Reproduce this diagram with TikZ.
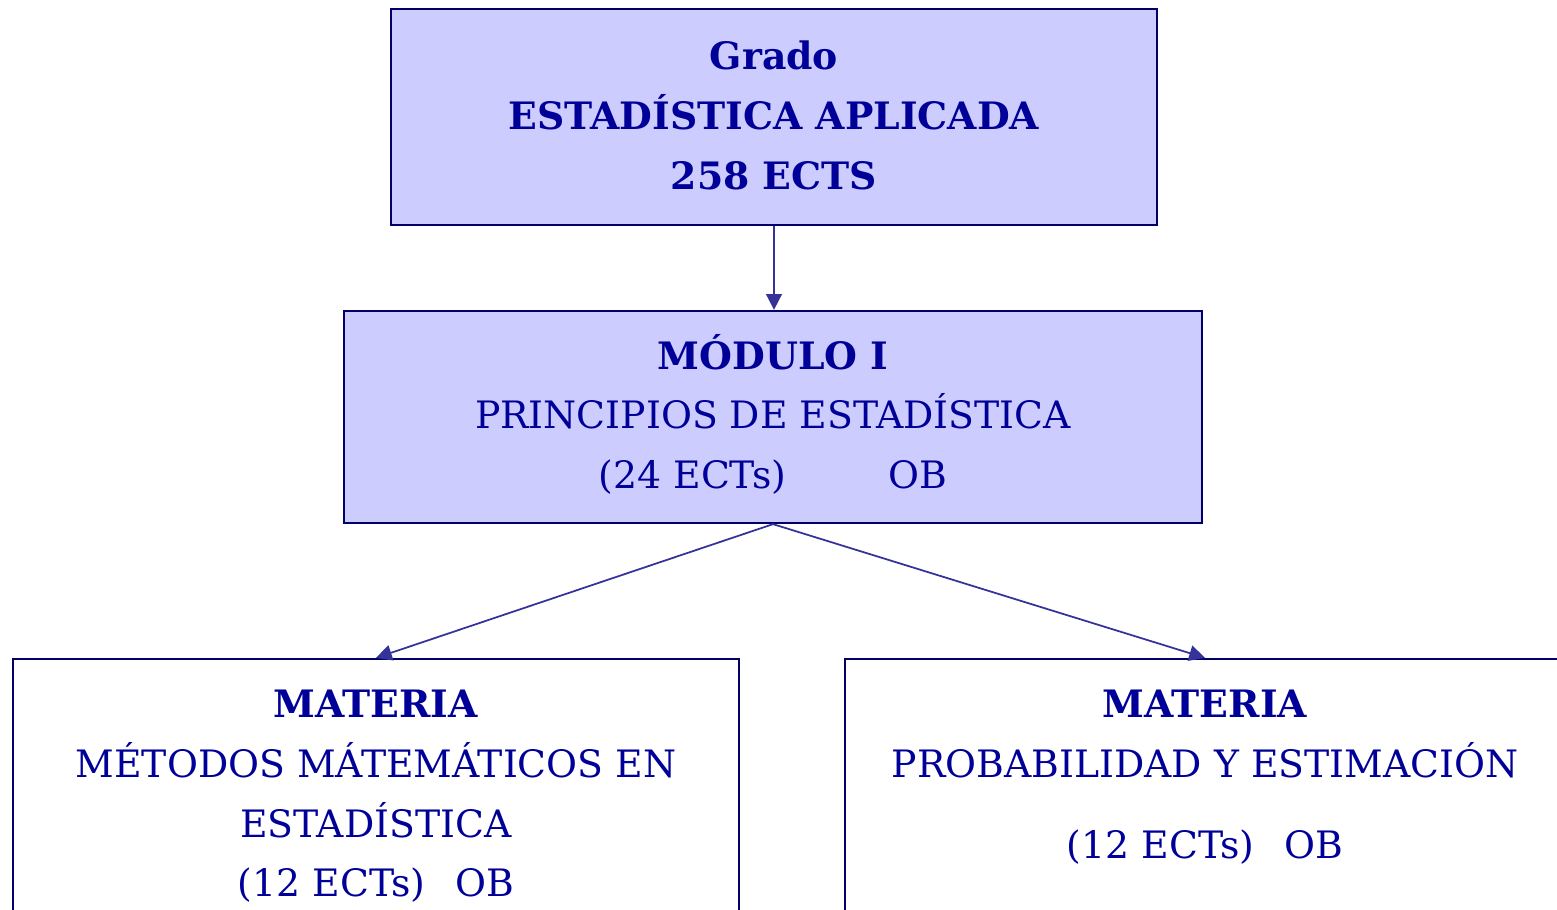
\documentclass[tikz,border=0pt]{standalone}
\usepackage{fontspec}
\setmainfont{DejaVu Serif}
\usetikzlibrary{arrows.meta, fit, calc}

\definecolor{boxfill}{HTML}{CCCCFF}
\definecolor{boxline}{HTML}{000066}
\definecolor{arrowline}{HTML}{333399}
\definecolor{textblue}{HTML}{000099}

\begin{document}
\begin{tikzpicture}[x=0.02cm, y=-0.02cm, >={Triangle[length=9pt, width=9pt]},
        box/.style={draw=boxline, line width=1.3pt, inner sep=0pt},
        shaded/.style={box, fill=boxfill},
        body/.style={text=textblue, align=center, inner sep=0pt, anchor=north,
            font=\fontsize{21.5}{34}\selectfont},
        conn/.style={->, draw=arrowline, line width=1pt}]

        % --- PAGE ---
        \useasboundingbox (0,0) rectangle (1557,909);
        \clip (0,0) rectangle (1557,909);

        % --- BOXES (the two materias are cut by the page) ---
        \node[shaded, fit={(391,9) (1157,225)}] (grado) {};
        \node[shaded, fit={(344,311) (1202,523)}] (modulo) {};
        \node[box, fit={(13,659) (739,1000)}] (metodos) {};
        \node[box, fit={(845,659) (1565,1000)}] (probabilidad) {};

        % --- TEXTS ---
        \node[body] (gradotext) at ($(grado.north)+(0,33)$)
            {\textbf{Grado}\\ \textbf{ESTADÍSTICA APLICADA}\\ \textbf{258 ECTS}};
        \node[body] (modulotext) at ($(modulo.north)+(0,24)$)
            {\textbf{MÓDULO I}\\ PRINCIPIOS DE ESTADÍSTICA\\
             (24 ECTs)\hspace{58pt}OB};
        \node[body] (metodostext) at ($(metodos.north)+(0,32)$)
            {\textbf{MATERIA}\\ MÉTODOS MÁTEMÁTICOS EN\\ ESTADÍSTICA\\
             (12 ECTs)\hspace{17pt}OB};
        \node[body] (probtext) at ($(probabilidad.north)+(0,32)$)
            {\textbf{MATERIA}\\ PROBABILIDAD Y ESTIMACIÓN\\[12pt]
             (12 ECTs)\hspace{17pt}OB};

        % --- ARROWS ---
        \draw[conn] (grado.south) -- (grado.south |- modulo.north);
        \draw[conn] (modulo.south) -- (metodos.north);
        \draw[conn] (modulo.south) -- (probabilidad.north);

    \end{tikzpicture}
\end{document}
